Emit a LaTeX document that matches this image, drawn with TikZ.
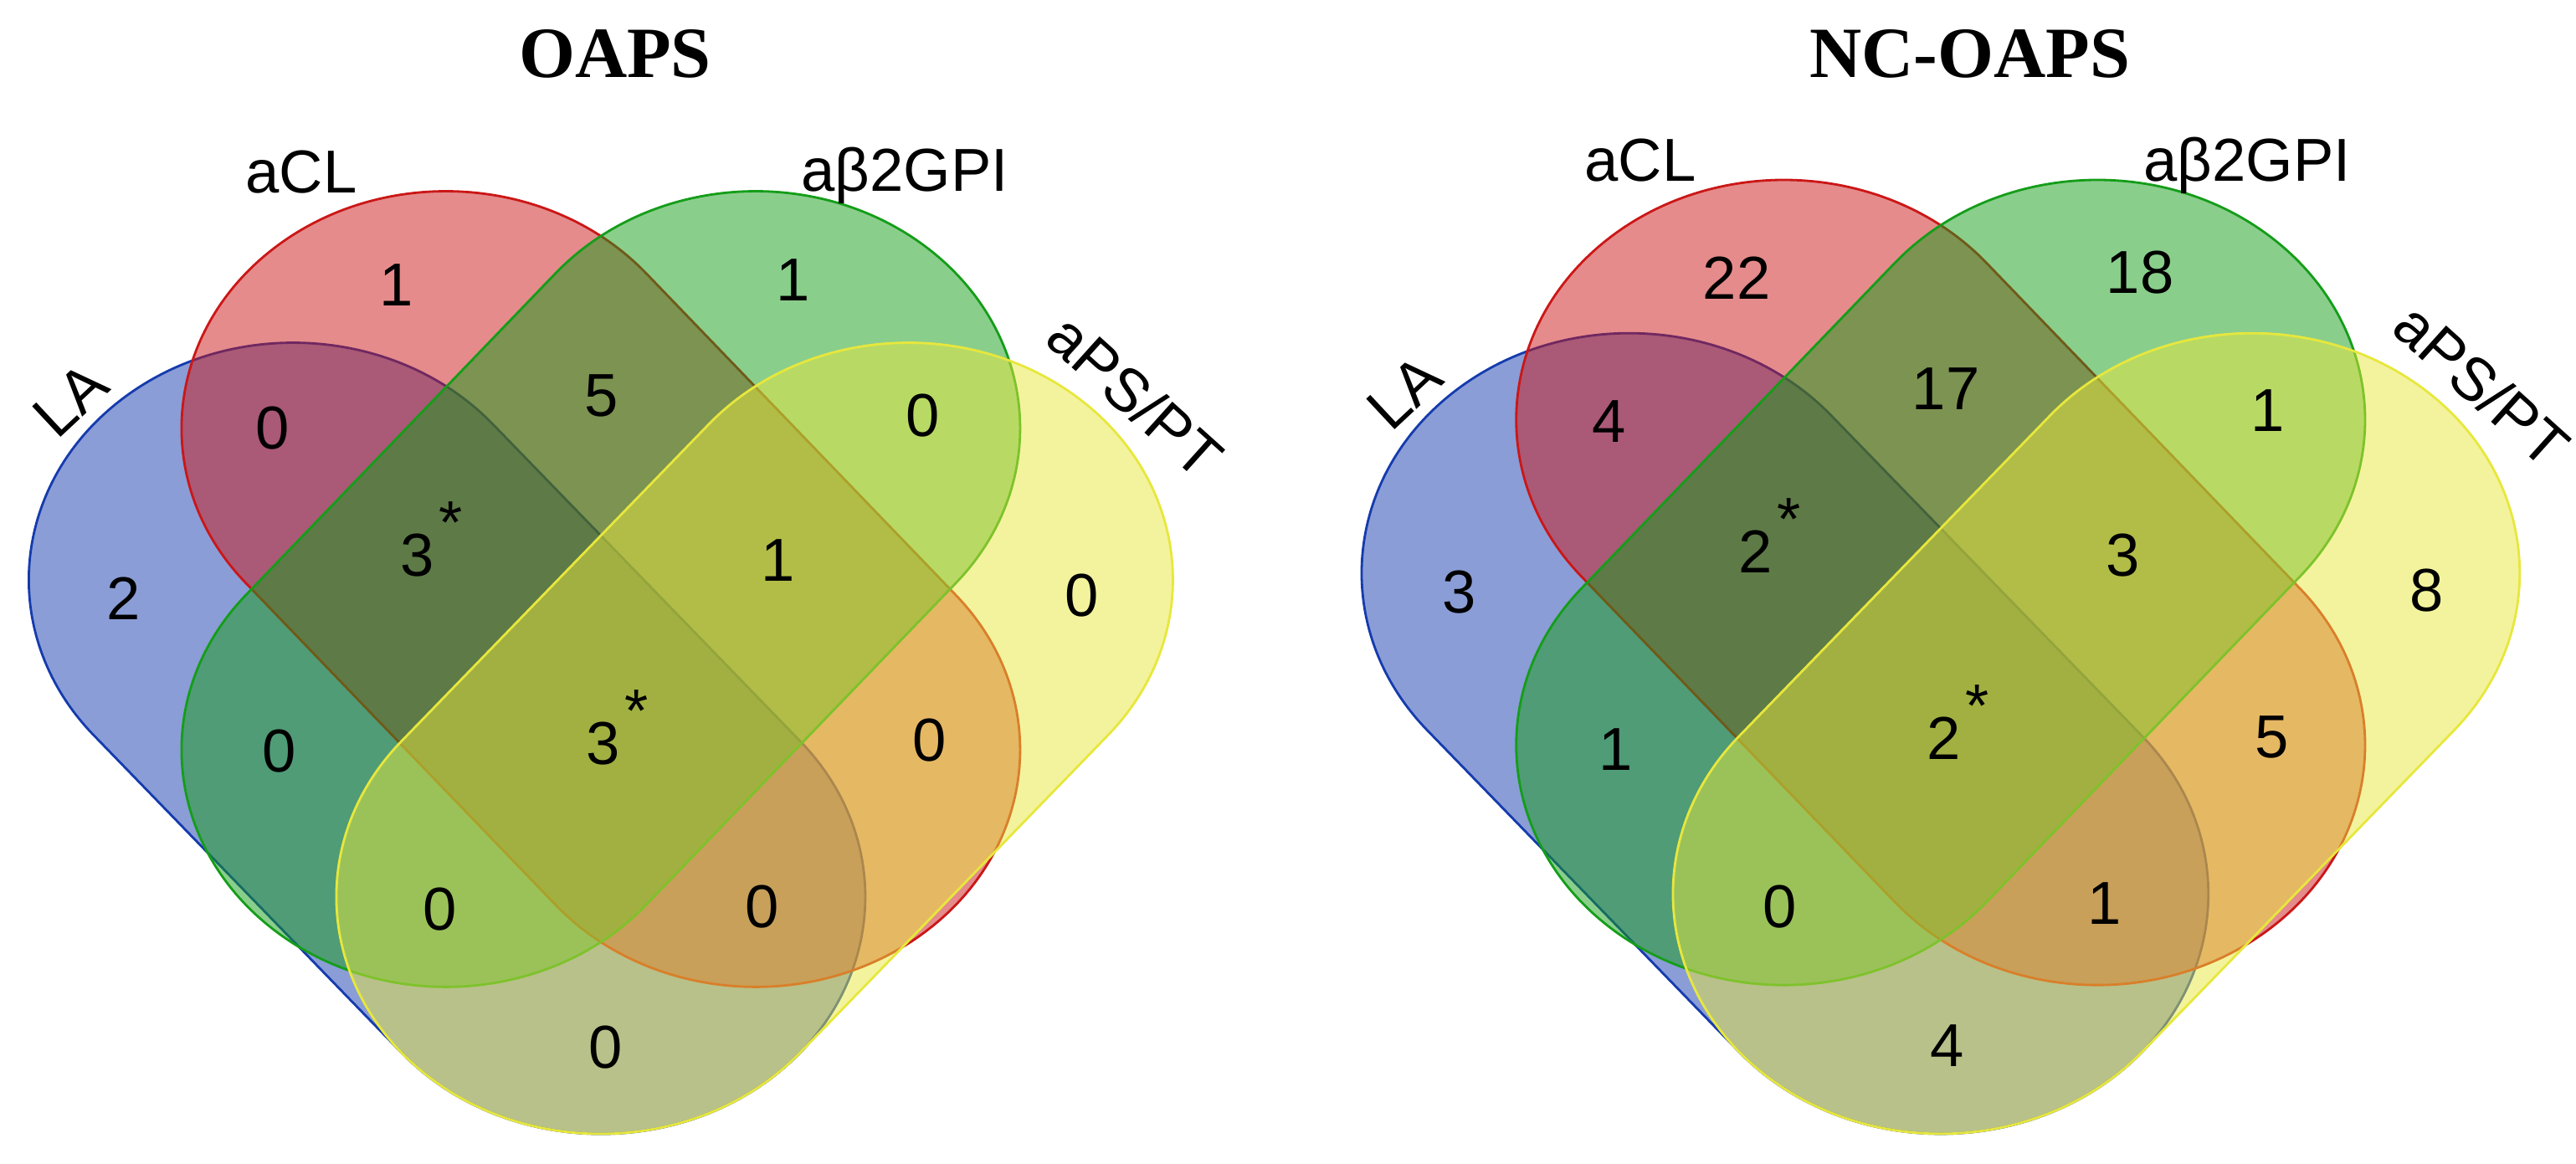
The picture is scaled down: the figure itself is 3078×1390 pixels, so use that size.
\documentclass[tikz,border=0pt]{standalone}
\usepackage{fontspec}
\setmainfont{Liberation Serif}
\setsansfont{Liberation Sans}
\usetikzlibrary{calc}

\definecolor{laBlue}{RGB}{21,59,173}
\definecolor{aclRed}{RGB}{203,23,23}
\definecolor{gpiGreen}{RGB}{21,157,25}
\definecolor{psYellow}{RGB}{231,231,61}

\tikzset{
  vennset/.style={draw=#1, fill=#1, fill opacity=0.5, line width=0.8pt},
  setname/.style={font=\sffamily\fontsize{20.6}{24}\selectfont, inner sep=0pt},
  regioncount/.style={font=\sffamily\fontsize{20.6}{24}\selectfont, inner sep=0pt},
  venntitle/.style={font=\bfseries\fontsize{24.5}{29}\selectfont, inner sep=0pt},
}

% one set: two round ends joined by straight sides
\newcommand{\drawcapsule}[4]{%
  \draw[vennset=#1] (#2) ++(#4+90:316) arc[start angle=#4+90, delta angle=180, radius=316]
    -- ($(#3)+(#4-90:316)$) arc[start angle=#4-90, delta angle=180, radius=316] -- cycle;}
\newcommand{\fourcapsules}{%
  \drawcapsule{laBlue}{-367.5,773}{0,1196}{49.0}
  \drawcapsule{aclRed}{-185,571}{185,1000}{49.2}
  \drawcapsule{gpiGreen}{185,571}{-185,1000}{130.8}
  \drawcapsule{psYellow}{367.5,773}{0,1196}{131.0}}
\newcommand{\starmark}{\rlap{\kern0.07em\raisebox{0.54em}[0pt][0pt]{*}}}

\begin{document}
\begin{tikzpicture}[x=0.01cm, y=-0.01cm]
  \useasboundingbox (0,0) rectangle (3078,1390);

  % OAPS
  \begin{scope}[shift={(7.175cm,0cm)}, x=0.01cm, y=-0.008956cm]
    \fourcapsules
  \end{scope}
  \node[venntitle] (oaps) at (735,64) {OAPS};
  \node[setname, anchor=base] (l-acl) at (360,230) {aCL};
  \node[setname, anchor=base] (l-gpi) at (1081,228) {aβ2GPI};
  \node[setname, rotate=43] (l-la) at (84,478) {LA};
  \node[setname, rotate=-42] (l-ps) at (1357,473) {aPS/PT};

  \node[regioncount] (l-c) at (474,341) {1};
  \node[regioncount] (l-g) at (948,335) {1};
  \node[regioncount] (l-lc) at (326,512) {0};
  \node[regioncount] (l-cg) at (719,473) {5};
  \node[regioncount] (l-gp) at (1103,497) {0};
  \node[regioncount] (l-l) at (148,715) {2};
  \node[regioncount] (l-lcg) at (499,664) {3\starmark};
  \node[regioncount] (l-cgp) at (930,670) {1};
  \node[regioncount] (l-p) at (1293,712) {0};
  \node[regioncount] (l-lg) at (334,898) {0};
  \node[regioncount] (l-all) at (721,889) {3\starmark};
  \node[regioncount] (l-cp) at (1111,885) {0};
  \node[regioncount] (l-lgp) at (526,1087) {0};
  \node[regioncount] (l-lcp) at (911,1084) {0};
  \node[regioncount] (l-lp) at (724,1252) {0};

  % NC-OAPS
  \begin{scope}[shift={(23.175cm,0.1625cm)}, x=0.01012cm, y=-0.009063cm]
    \fourcapsules
  \end{scope}
  \node[venntitle] (ncoaps) at (2354,64) {NC-OAPS};
  \node[setname, anchor=base] (r-acl) at (1960,216) {aCL};
  \node[setname, anchor=base] (r-gpi) at (2685,216) {aβ2GPI};
  \node[setname, rotate=43] (r-la) at (1678,469) {LA};
  \node[setname, rotate=-42] (r-ps) at (2966,460) {aPS/PT};

  \node[regioncount] (r-c) at (2075,332) {22};
  \node[regioncount] (r-g) at (2557,326) {18};
  \node[regioncount] (r-lc) at (1923,504) {4};
  \node[regioncount] (r-cg) at (2325,465) {17};
  \node[regioncount] (r-gp) at (2710,491) {1};
  \node[regioncount] (r-l) at (1744,708) {3};
  \node[regioncount] (r-lcg) at (2098,659) {2\starmark};
  \node[regioncount] (r-cgp) at (2537,664) {3};
  \node[regioncount] (r-p) at (2900,706) {8};
  \node[regioncount] (r-lg) at (1931,896) {1};
  \node[regioncount] (r-all) at (2323,882) {2\starmark};
  \node[regioncount] (r-cp) at (2715,881) {5};
  \node[regioncount] (r-lgp) at (2127,1084) {0};
  \node[regioncount] (r-lcp) at (2515,1080) {1};
  \node[regioncount] (r-lp) at (2327,1250) {4};
\end{tikzpicture}
\end{document}
